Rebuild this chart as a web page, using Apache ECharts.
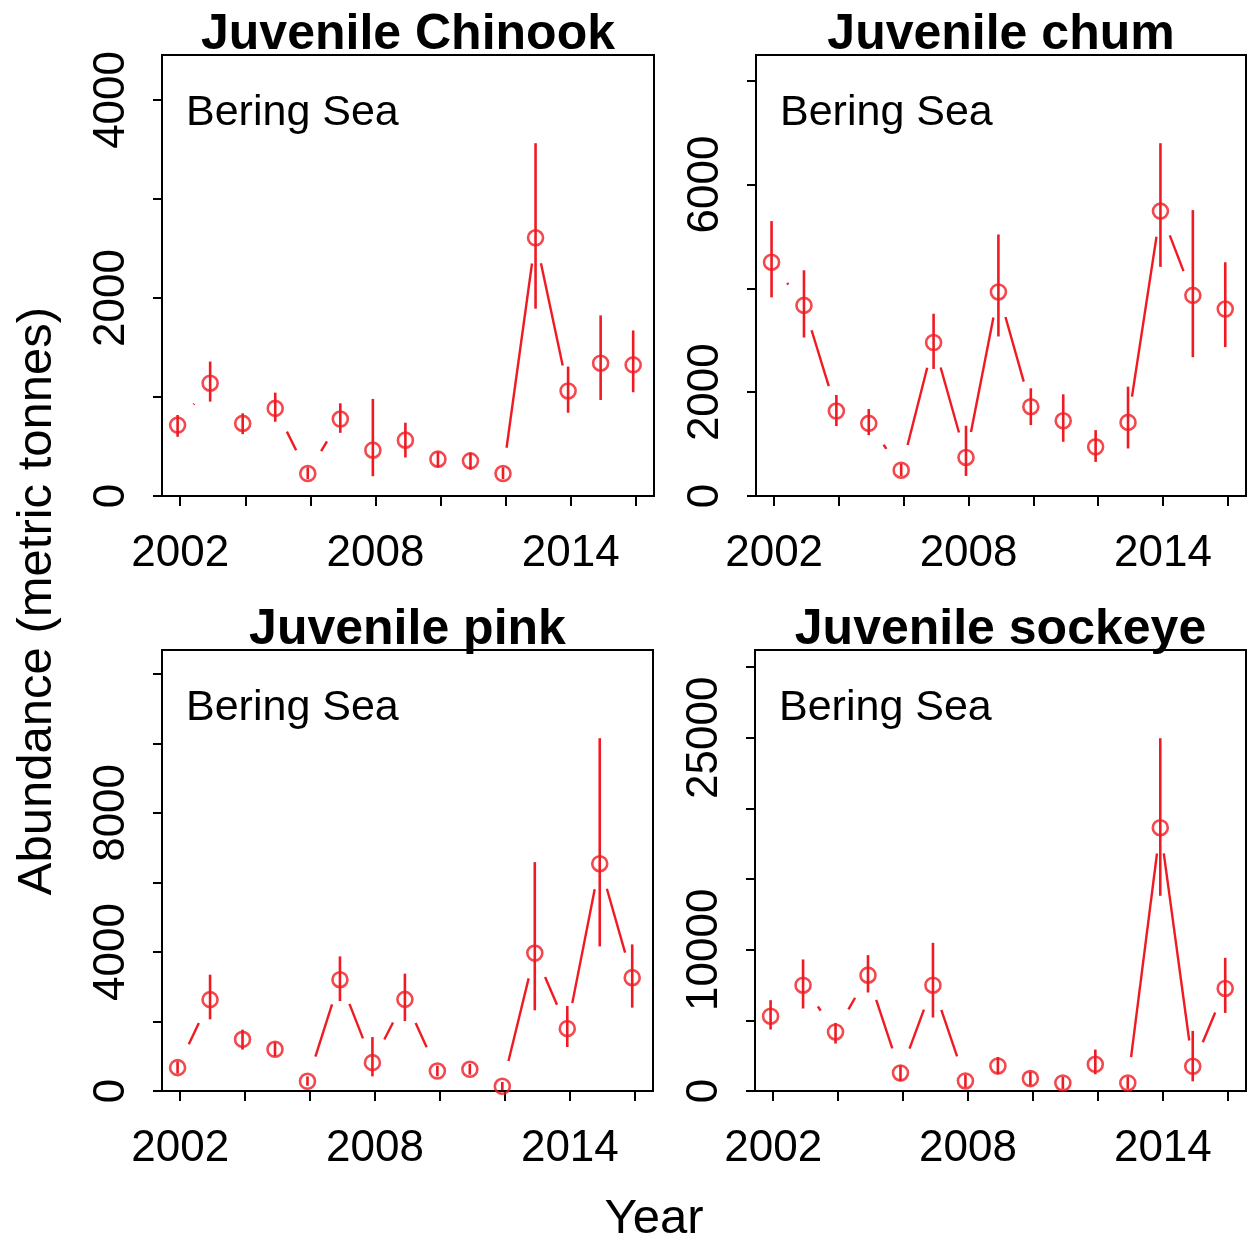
<!DOCTYPE html>
<html>
<head>
<meta charset="utf-8">
<script src="https://cdn.jsdelivr.net/npm/echarts@6/dist/echarts.min.js"></script>
<style>
  html, body { margin: 0; padding: 0; background: #fff; }
  #chart { width: 1248px; height: 1243px; }
</style>
</head>
<body>
<div id="chart"></div>
<script>
// Survey years
const years = [2002, 2003, 2004, 2005, 2006, 2007, 2008, 2009, 2010, 2011, 2012, 2013, 2014, 2015, 2016];

// Juvenile Chinook abundance (metric tonnes) with lower / upper bounds
const chinookEst = [716, 1139, 733, 885, 227, 777, 463, 564, 372, 355, 227, 2608, 1061, 1341, 1324];
const chinookLo  = [598, 953, 625, 750, 170, 638, 200, 389, 288, 267, 170, 1892, 841, 970, 1048];
const chinookHi  = [818, 1358, 835, 1044, 290, 936, 980, 740, 446, 436, 290, 3563, 1307, 1824, 1672];

// Juvenile chum
const chumEst = [4503, 3672, 1637, 1399, 497, 2957, 742, 3930, 1720, 1449, 947, 1418, 5488, 3865, 3602];
const chumLo  = [3826, 3053, 1347, 1173, 380, 2448, 387, 3073, 1366, 1044, 657, 916, 4414, 2674, 2868];
const chumHi  = [5295, 4348, 1946, 1675, 620, 3511, 1353, 5038, 2075, 1959, 1269, 2106, 6796, 5507, 4503];

// Juvenile pink
const pinkEst = [672, 2628, 1486, 1199, 279, 3202, 816, 2636, 575, 624, 135, 3967, 1794, 6537, 3260];
const pinkLo  = [500, 2061, 1190, 1000, 150, 2587, 422, 2012, 420, 470, 20, 2320, 1265, 4160, 2398];
const pinkHi  = [850, 3346, 1765, 1400, 420, 3872, 1552, 3375, 730, 780, 260, 6583, 2444, 10148, 4217];

// Juvenile sockeye
const sockeyeEst = [5293, 7489, 4180, 8198, 1275, 7489, 709, 1771, 878, 567, 1892, 567, 18634, 1750, 7255];
const sockeyeLo  = [4350, 5838, 3358, 6972, 700, 5200, 250, 1183, 400, 150, 1183, 150, 13816, 687, 5527];
const sockeyeHi  = [6426, 9310, 4818, 9615, 1800, 10486, 1150, 2409, 1350, 1000, 2933, 1000, 24968, 4251, 9423];

// Axis ticks and the tick labels printed on each panel
const xTicks = [2002, 2004, 2006, 2008, 2010, 2012, 2014, 2016];
const xTickLabels = [2002, 2008, 2014];
const chinookTicks = [0, 1000, 2000, 3000, 4000];
const chinookTickLabels = [0, 2000, 4000];
const chumTicks = [0, 2000, 4000, 6000, 8000];
const chumTickLabels = [0, 2000, 6000];
const pinkTicks = [0, 2000, 4000, 6000, 8000, 10000, 12000];
const pinkTickLabels = [0, 4000, 8000];
const sockeyeTicks = [0, 5000, 10000, 15000, 20000, 25000, 30000];
const sockeyeTickLabels = [0, 10000, 25000];

const titles = ['Juvenile Chinook', 'Juvenile chum', 'Juvenile pink', 'Juvenile sockeye'];
const regionLabel = 'Bering Sea';

// ---- drawing setup ----
const RED = '#f01a22';
const FONT = '"Liberation Sans", Arial, sans-serif';
const GAP = 26;          // gap left around each point on connecting lines
const DODGE = -0.08;     // small horizontal offset of the plotted points
const X_MIN = 2001.44, X_MAX = 2016.56;

const panels = [
  { est: chinookEst, lo: chinookLo, hi: chinookHi, ticks: chinookTicks, labels: chinookTickLabels,
    box: { left: 162, top: 55, width: 492, height: 441 } },
  { est: chumEst, lo: chumLo, hi: chumHi, ticks: chumTicks, labels: chumTickLabels,
    box: { left: 756, top: 55, width: 490, height: 441 } },
  { est: pinkEst, lo: pinkLo, hi: pinkHi, ticks: pinkTicks, labels: pinkTickLabels,
    box: { left: 162, top: 650, width: 491, height: 441 } },
  { est: sockeyeEst, lo: sockeyeLo, hi: sockeyeHi, ticks: sockeyeTicks, labels: sockeyeTickLabels,
    box: { left: 755, top: 650, width: 491, height: 441 } }
];

const grid = [], xAxis = [], yAxis = [], series = [], graphic = [];

panels.forEach((p, i) => {
  const xs = years.map(y => y + DODGE);
  const yMax = 1.25 * Math.max(...p.hi);

  grid.push({
    left: p.box.left, top: p.box.top, width: p.box.width, height: p.box.height,
    show: true, borderColor: '#000', borderWidth: 2, backgroundColor: 'transparent'
  });

  xAxis.push({
    type: 'value', gridIndex: i, min: X_MIN, max: X_MAX,
    axisLine: { show: true, lineStyle: { color: '#000', width: 2 } },
    axisTick: { show: true, customValues: xTicks, length: 10, inside: false,
                lineStyle: { color: '#000', width: 2 } },
    axisLabel: { show: true, customValues: xTickLabels, margin: 36,
                 color: '#000', fontSize: 44, fontFamily: FONT,
                 formatter: v => String(Math.round(v)) },
    splitLine: { show: false }
  });

  yAxis.push({
    type: 'value', gridIndex: i, min: 0, max: yMax,
    axisLine: { show: true, lineStyle: { color: '#000', width: 2 } },
    axisTick: { show: true, customValues: p.ticks, length: 9, inside: false,
                lineStyle: { color: '#000', width: 2 } },
    axisLabel: { show: true, customValues: p.labels, rotate: 90, margin: 28,
                 color: '#000', fontSize: 44, fontFamily: FONT,
                 formatter: v => String(Math.round(v)) },
    splitLine: { show: false }
  });

  // error bars
  series.push({
    type: 'custom', xAxisIndex: i, yAxisIndex: i, silent: true,
    data: xs.map((x, k) => [x, p.lo[k], p.hi[k]]),
    encode: { x: 0, y: [1, 2] },
    renderItem: (params, api) => {
      const a = api.coord([api.value(0), api.value(1)]);
      const b = api.coord([api.value(0), api.value(2)]);
      return { type: 'line', shape: { x1: a[0], y1: a[1], x2: b[0], y2: b[1] },
               style: { stroke: RED, lineWidth: 2.6 } };
    }
  });

  // connecting lines, broken around each point
  const segs = [];
  for (let k = 0; k < xs.length - 1; k++) segs.push([xs[k], p.est[k], xs[k + 1], p.est[k + 1]]);
  series.push({
    type: 'custom', xAxisIndex: i, yAxisIndex: i, silent: true,
    data: segs,
    encode: { x: [0, 2], y: [1, 3] },
    renderItem: (params, api) => {
      const a = api.coord([api.value(0), api.value(1)]);
      const b = api.coord([api.value(2), api.value(3)]);
      const dx = b[0] - a[0], dy = b[1] - a[1];
      const len = Math.hypot(dx, dy);
      if (len <= 2 * GAP) return null;
      const ux = dx / len, uy = dy / len;
      return { type: 'line',
               shape: { x1: a[0] + ux * GAP, y1: a[1] + uy * GAP, x2: b[0] - ux * GAP, y2: b[1] - uy * GAP },
               style: { stroke: RED, lineWidth: 2.4 } };
    }
  });

  // open circles at the estimates
  series.push({
    type: 'scatter', xAxisIndex: i, yAxisIndex: i, silent: true,
    data: xs.map((x, k) => [x, p.est[k]]),
    symbol: 'circle', symbolSize: 15,
    itemStyle: { color: 'transparent', borderColor: RED, borderWidth: 2.6 }
  });

  // panel title and region label
  graphic.push({
    type: 'text', x: p.box.left + p.box.width / 2, y: p.box.top - 20,
    style: { text: titles[i], fill: '#000', font: 'bold 50px ' + FONT,
             textAlign: 'center', textVerticalAlign: 'middle' }
  });
  graphic.push({
    type: 'text', x: p.box.left + 24, y: p.box.top + 58,
    style: { text: regionLabel, fill: '#000', font: '43px ' + FONT,
             textAlign: 'left', textVerticalAlign: 'middle' }
  });
});

// shared axis titles
graphic.push({
  type: 'text', x: 654, y: 1219,
  style: { text: 'Year', fill: '#000', font: '49px ' + FONT,
           textAlign: 'center', textVerticalAlign: 'middle' }
});
graphic.push({
  type: 'text', x: 37, y: 601, rotation: Math.PI / 2,
  style: { text: 'Abundance (metric tonnes)', fill: '#000', font: '49px ' + FONT,
           textAlign: 'center', textVerticalAlign: 'middle' }
});

const chart = echarts.init(document.getElementById('chart'), null, { renderer: 'canvas' });
chart.setOption({
  backgroundColor: '#fff',
  animation: false,
  grid, xAxis, yAxis, series, graphic
});
</script>
</body>
</html>
